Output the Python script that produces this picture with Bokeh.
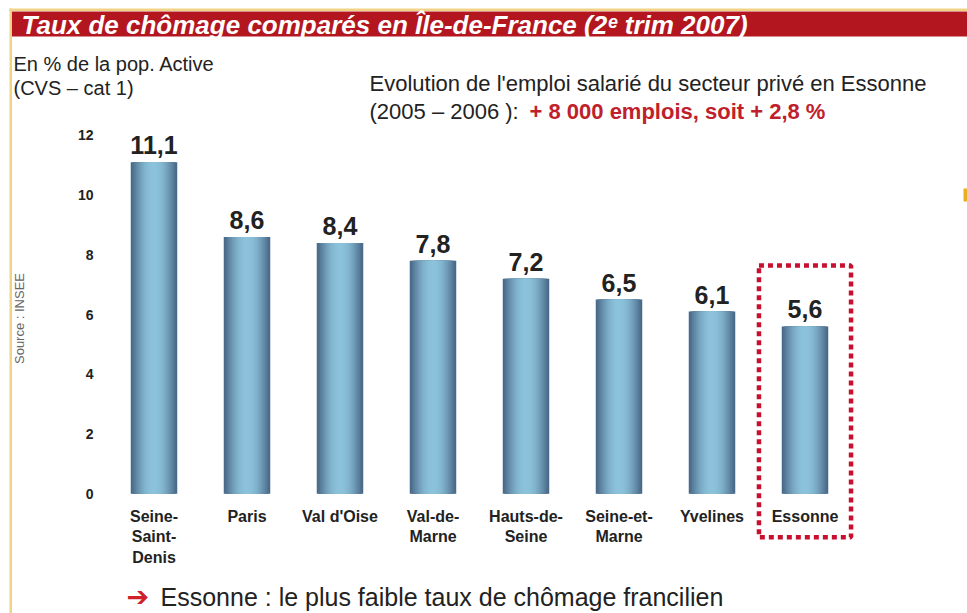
import math
from bokeh.plotting import figure
from bokeh.models import Range1d, FixedTicker, Label, BoxAnnotation, ColumnDataSource
from bokeh.embed import file_html
from bokeh.resources import INLINE
from bokeh.core.properties import value

# ---------------- data ----------------
categories = ["Seine-Saint-Denis", "Paris", "Val d'Oise", "Val-de-Marne",
              "Hauts-de-Seine", "Seine-et-Marne", "Yvelines", "Essonne"]
category_labels = ["Seine-\nSaint-\nDenis", "Paris", "Val d'Oise", "Val-de-\nMarne",
                   "Hauts-de-\nSeine", "Seine-et-\nMarne", "Yvelines", "Essonne"]
rates = [11.1, 8.6, 8.4, 7.8, 7.2, 6.5, 6.1, 5.6]
y_ticks = [0, 2, 4, 6, 8, 10, 12]
highlight = "Essonne"

title_text = "Taux de chômage comparés en Île-de-France (2ᵉ trim 2007)"
unit_lines = ["En % de la pop. Active", "(CVS – cat 1)"]
note_line1 = "Evolution de l'emploi salarié du secteur privé en Essonne"
note_line2a = "(2005 – 2006 ): "
note_line2b = "+ 8 000 emplois, soit + 2,8 %"
footer_text = "Essonne : le plus faible taux de chômage francilien"
source_text = "Source : INSEE"

FONT = "Liberation Sans"
RED = "#B3161F"
TEXT = "#222222"

W, H = 967, 613
positions = list(range(len(categories)))

p = figure(width=W, height=H, output_backend="svg", toolbar_location=None,
           x_range=Range1d(-1.6505, 8.7473), y_range=Range1d(-4.012, 16.517),
           min_border=0)
p.outline_line_color = None
p.grid.visible = False
p.background_fill_color = "white"
p.border_fill_color = "white"

# screen helpers (frame == canvas; screen y is measured from the bottom)
def sx(X):
    return X

def sy(Y):
    return H - Y

# ---------------- bars (gradient via nested bars) ----------------
src = ColumnDataSource(dict(x=positions, cat=categories, rate=rates,
                            lab=[f"{v:.1f}".replace(".", ",") for v in rates]))
edge = (0x4A, 0x69, 0x88)
mid = (0x8C, 0xC2, 0xDB)
n_layers = 14
for k in range(n_layers):
    t = k / (n_layers - 1)
    s = math.sin(t * math.pi / 2)
    col = tuple(int(edge[i] + (mid[i] - edge[i]) * s) for i in range(3))
    w = 0.5 * (1 - k / n_layers)
    p.vbar(x="x", top="rate", bottom=0, width=w, source=src,
           fill_color="#%02x%02x%02x" % col, line_color=None)

# value labels
p.text(x="x", y="rate", text="lab", source=src, text_align="center",
       text_baseline="bottom", y_offset=-8, text_font=value(FONT),
       text_font_style="bold", text_font_size="25px", text_color=TEXT)

# highlight box around Essonne
hi = categories.index(highlight)
p.rect(x=[hi], y=[3.09], width=0.99, height=9.1, fill_alpha=0,
       line_color="#C8102E", line_width=4.5, line_dash="5 4")

# ---------------- axes ----------------
p.xaxis.fixed_location = 0
p.xaxis.ticker = FixedTicker(ticks=positions)
p.xaxis.major_label_overrides = {i: lbl for i, lbl in zip(positions, category_labels)}
p.xaxis.axis_line_color = None
p.xaxis.major_tick_line_color = None
p.xaxis.minor_tick_line_color = None
p.xaxis.major_label_text_font = FONT
p.xaxis.major_label_text_font_style = "bold"
p.xaxis.major_label_text_font_size = "16px"
p.xaxis.major_label_text_color = TEXT
p.xaxis.major_label_text_line_height = 1.22
p.xaxis.major_label_standoff = 8

p.yaxis.fixed_location = -0.5
p.yaxis.ticker = FixedTicker(ticks=y_ticks)
p.yaxis.axis_line_color = None
p.yaxis.major_tick_line_color = None
p.yaxis.minor_tick_line_color = None
p.yaxis.major_label_text_font = FONT
p.yaxis.major_label_text_font_style = "bold"
p.yaxis.major_label_text_font_size = "14px"
p.yaxis.major_label_text_color = TEXT
p.yaxis.major_label_standoff = 8

# ---------------- decorations ----------------
def box(l, r, t, b, color):
    p.add_layout(BoxAnnotation(left=sx(l), right=sx(r), top=sy(t), bottom=sy(b),
                               left_units="screen", right_units="screen",
                               top_units="screen", bottom_units="screen",
                               fill_color=color, fill_alpha=1, line_color=None,
                               level="underlay"))

box(9, W + 20, 8, 10.5, "#F1D385")
box(9, 11.5, 8, H + 20, "#F1D385")
box(11.5, W + 20, 11, 36, RED)
box(963, W + 5, 188, 201, "#E8B020")

def lab(X, Y, text, size, color=TEXT, style="normal", align="left", angle=0, font=FONT):
    p.add_layout(Label(x=sx(X), y=sy(Y), x_units="screen", y_units="screen",
                       text=text, text_font=font, text_font_size=size,
                       text_font_style=style, text_color=color, text_align=align,
                       text_baseline="middle", angle=angle))

lab(21, 24, title_text, "26px", color="white", style="bold italic")
lab(13, 63, unit_lines[0], "20px")
lab(13, 87, unit_lines[1], "20px")
lab(369, 83, note_line1, "22px")
lab(369, 111, note_line2a, "22px")
lab(529, 111, note_line2b, "22px", color="#C0202B", style="bold")
lab(19, 318, source_text, "13px", color="#666666", align="center", angle=math.pi / 2)
lab(126, 596, "➔", "27px", color="#D0202A", style="bold", font="DejaVu Sans")
lab(160, 596, footer_text, "25px")

open("out.html", "w").write(file_html(p, INLINE))
